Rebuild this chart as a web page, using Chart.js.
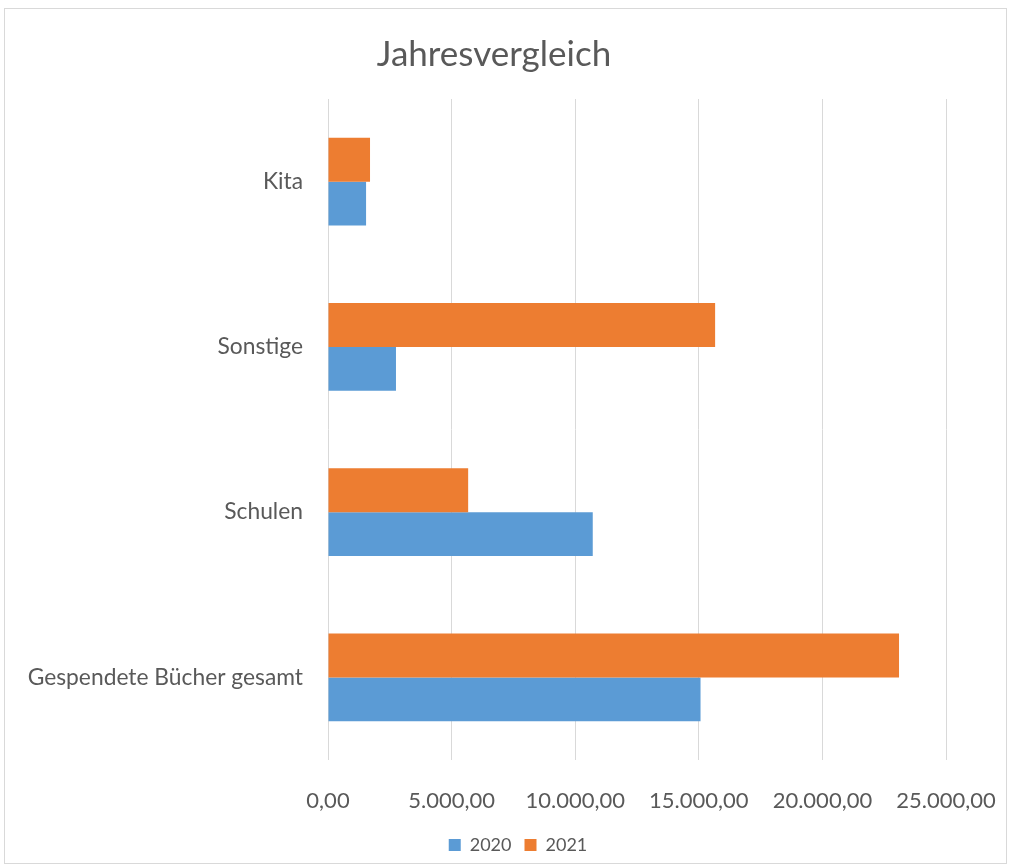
<!DOCTYPE html>
<html lang="de">
<head>
<meta charset="utf-8">
<script src="https://cdn.jsdelivr.net/npm/chart.js@4.4.0/dist/chart.umd.min.js"></script>
<style>
  html, body { margin: 0; padding: 0; background: #fff; }
  #wrap { position: relative; width: 1010px; height: 867px; }
  #frame { position: absolute; left: 4px; top: 8px; width: 1003px; height: 856px; border: 1px solid #d9d9d9; box-sizing: border-box; }
  canvas { position: absolute; left: 0; top: 0; }
</style>
</head>
<body>
<div id="wrap">
  <div id="frame"></div>
  <canvas id="chart" width="1010" height="867"></canvas>
</div>
<script>
  // Data
  const categories = ["Kita", "Sonstige", "Schulen", "Gespendete Bücher gesamt"];
  const values2020 = [1540, 2750, 10710, 15070];
  const values2021 = [1700, 15660, 5670, 23100];
  const xTicks = [0, 5000, 10000, 15000, 20000, 25000];

  const textColor = "#595959";
  const gridColor = "#d9d9d9";

  // German number format, two decimals: 15.000,00
  function formatDe(v) {
    const parts = Number(v).toFixed(2).split(".");
    parts[0] = parts[0].replace(/\B(?=(\d{3})+(?!\d))/g, ".");
    return parts.join(",");
  }

  // title and legend are not centred on the canvas in the original
  const nudgeBoxes = {
    id: "nudgeBoxes",
    afterLayout(chart) {
      chart.titleBlock.left += 21;
      chart.titleBlock.right += 21;
      chart.legend.left += 45;
      chart.legend.right += 45;
    },
  };

  const ctx = document.getElementById("chart").getContext("2d");

  new Chart(ctx, {
    type: "bar",
    data: {
      labels: categories,
      datasets: [
        // 2021 first so it sits above 2020 inside each group
        {
          label: "2021",
          data: values2021,
          backgroundColor: "#ed7d31",
          borderWidth: 0,
        },
        {
          label: "2020",
          data: values2020,
          backgroundColor: "#5b9bd5",
          borderWidth: 0,
        },
      ],
    },
    options: {
      indexAxis: "y",
      responsive: false,
      animation: false,
      datasets: {
        bar: { barPercentage: 1, categoryPercentage: 0.53 },
      },
      layout: {
        padding: { top: 8, left: 0, right: 64, bottom: 3 },
      },
      plugins: {
        title: {
          display: true,
          text: "Jahresvergleich",
          color: textColor,
          font: { family: "Lato", size: 35, weight: "normal" },
          padding: { top: 26, bottom: 23 },
        },
        legend: {
          position: "bottom",
          reverse: true,
          labels: {
            color: textColor,
            font: { family: "Lato", size: 18 },
            boxWidth: 12,
            boxHeight: 12,
            padding: 13,
          },
        },
        tooltip: { enabled: false },
      },
      scales: {
        x: {
          min: 0,
          max: 25000,
          afterBuildTicks: (scale) => {
            scale.ticks = xTicks.map((v) => ({ value: v }));
          },
          afterFit: (scale) => {
            scale.height = 63;
            scale.paddingLeft = 0;
            scale.paddingRight = 0;
          },
          grid: { color: gridColor, lineWidth: 1, drawTicks: false },
          border: { display: false },
          ticks: {
            color: textColor,
            font: { family: "Lato", size: 22 },
            padding: 28,
            maxRotation: 0,
            callback: (v) => formatDe(v),
          },
        },
        y: {
          afterFit: (scale) => {
            scale.width = 328;
          },
          grid: { display: false, drawTicks: false },
          border: { display: false },
          ticks: {
            color: textColor,
            font: { family: "Lato", size: 22.8 },
            padding: 25,
          },
        },
      },
    },
    plugins: [nudgeBoxes],
  });
</script>
</body>
</html>
